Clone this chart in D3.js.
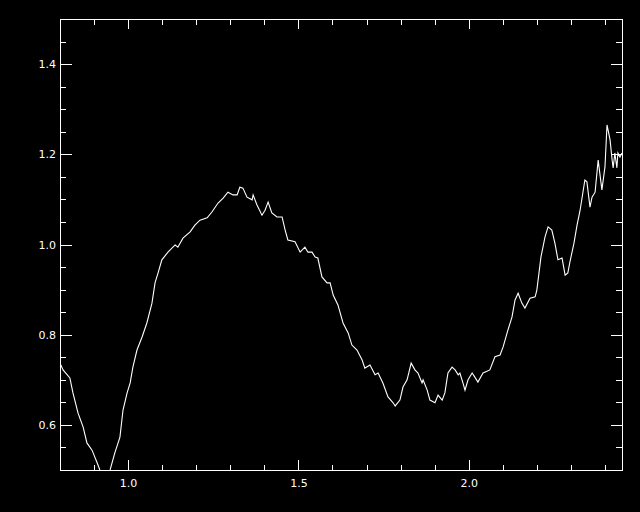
<!DOCTYPE html>
<html lang="en">
<head>
    <meta charset="UTF-8">
    <title>Spectrum - D3.js v7</title>
    <script src="https://d3js.org/d3.v7.min.js"></script>
    <style>
        html, body {
            margin: 0;
            padding: 0;
            background: #000;
        }

        .axis text {
            fill: #fff;
            font-family: "DejaVu Sans", Arial, sans-serif;
            font-size: 11px;
        }

        .axis line {
            stroke: #fff;
            stroke-width: 1;
            shape-rendering: crispEdges;
        }

        .axis .domain {
            display: none;
        }

        .frame {
            fill: none;
            stroke: #fff;
            stroke-width: 1;
            shape-rendering: crispEdges;
        }

        .line {
            fill: none;
            stroke: #fff;
            stroke-width: 1.1;
            clip-path: url(#clip);
        }
    </style>
</head>
<body>
    <div id="chart"></div>

    <script>
        // spectrum: wavelength and flux
        const wavelength = [
            0.800, 0.809, 0.829, 0.838, 0.853, 0.868, 0.879, 0.894, 0.909, 0.917,
            0.929, 0.947, 0.961, 0.976, 0.985, 0.997, 1.006, 1.014, 1.026, 1.041,
            1.055, 1.070, 1.079, 1.088, 1.099, 1.117, 1.138, 1.146, 1.161, 1.182,
            1.196, 1.211, 1.232, 1.246, 1.264, 1.279, 1.293, 1.308, 1.320, 1.328,
            1.337, 1.349, 1.364, 1.367, 1.378, 1.393, 1.402, 1.411, 1.422, 1.437,
            1.452, 1.461, 1.469, 1.490, 1.505, 1.519, 1.528, 1.540, 1.549, 1.557,
            1.569, 1.584, 1.593, 1.602, 1.616, 1.631, 1.646, 1.657, 1.672, 1.687,
            1.695, 1.710, 1.725, 1.734, 1.748, 1.763, 1.778, 1.784, 1.798, 1.807,
            1.819, 1.831, 1.842, 1.851, 1.863, 1.866, 1.878, 1.886, 1.901, 1.910,
            1.922, 1.930, 1.939, 1.951, 1.960, 1.969, 1.974, 1.983, 1.989, 1.998,
            2.010, 2.018, 2.027, 2.042, 2.062, 2.077, 2.092, 2.101, 2.115, 2.127,
            2.136, 2.145, 2.156, 2.165, 2.180, 2.195, 2.200, 2.212, 2.224, 2.233,
            2.244, 2.253, 2.262, 2.274, 2.283, 2.291, 2.297, 2.309, 2.318, 2.327,
            2.341, 2.347, 2.356, 2.362, 2.371, 2.380, 2.391, 2.400, 2.406, 2.415,
            2.421, 2.424, 2.429, 2.435, 2.438, 2.444, 2.450
        ];

        const flux = [
            0.737, 0.722, 0.704, 0.671, 0.626, 0.595, 0.560, 0.544, 0.516, 0.500,
            0.480, 0.500, 0.538, 0.573, 0.633, 0.671, 0.693, 0.728, 0.766, 0.795,
            0.826, 0.870, 0.915, 0.937, 0.966, 0.983, 0.999, 0.994, 1.014, 1.028,
            1.043, 1.054, 1.059, 1.072, 1.092, 1.103, 1.116, 1.110, 1.110, 1.127,
            1.125, 1.105, 1.099, 1.110, 1.088, 1.065, 1.076, 1.094, 1.070, 1.061,
            1.061, 1.032, 1.010, 1.006, 0.983, 0.994, 0.983, 0.983, 0.972, 0.970,
            0.928, 0.915, 0.915, 0.888, 0.866, 0.826, 0.804, 0.777, 0.766, 0.744,
            0.726, 0.733, 0.711, 0.715, 0.693, 0.662, 0.649, 0.642, 0.655, 0.684,
            0.700, 0.737, 0.722, 0.715, 0.693, 0.700, 0.677, 0.655, 0.649, 0.666,
            0.655, 0.671, 0.715, 0.728, 0.722, 0.711, 0.715, 0.693, 0.677, 0.700,
            0.715, 0.706, 0.695, 0.715, 0.722, 0.751, 0.755, 0.773, 0.810, 0.839,
            0.877, 0.892, 0.870, 0.859, 0.881, 0.884, 0.899, 0.972, 1.017, 1.039,
            1.032, 1.003, 0.966, 0.970, 0.932, 0.937, 0.961, 1.003, 1.043, 1.076,
            1.143, 1.139, 1.083, 1.105, 1.116, 1.187, 1.121, 1.172, 1.265, 1.232,
            1.187, 1.170, 1.203, 1.170, 1.203, 1.194, 1.203
        ];

        // tick values
        const xMajor = [1.0, 1.5, 2.0];
        const xMinor = [0.9, 1.1, 1.2, 1.3, 1.4, 1.6, 1.7, 1.8, 1.9, 2.1, 2.2, 2.3, 2.4];
        const yMajor = [0.6, 0.8, 1.0, 1.2, 1.4];
        const yMinor = [0.55, 0.65, 0.7, 0.75, 0.85, 0.9, 0.95, 1.05, 1.1, 1.15, 1.25, 1.3, 1.35, 1.45];

        const totalWidth = 640, totalHeight = 512;
        const margin = { top: 19, right: 18, bottom: 42, left: 60 },
            width = totalWidth - margin.left - margin.right,
            height = totalHeight - margin.top - margin.bottom;

        const data = wavelength.map((w, i) => ({ x: w, y: flux[i] }));

        const svg = d3.select("#chart")
            .append("svg")
            .attr("width", totalWidth)
            .attr("height", totalHeight)
            .style("display", "block")
            .style("background", "#000");

        svg.append("defs").append("clipPath")
            .attr("id", "clip")
            .append("rect")
            .attr("width", width)
            .attr("height", height);

        const chart = svg.append("g")
            .attr("transform", `translate(${margin.left},${margin.top})`);

        const x = d3.scaleLinear().domain([0.8, 2.45]).range([0, width]);
        const y = d3.scaleLinear().domain([0.5, 1.5]).range([height, 0]);

        const fmt = d3.format(".1f");

        // bottom axis with labels, ticks pointing inward
        chart.append("g")
            .attr("class", "axis")
            .attr("transform", `translate(0,${height})`)
            .call(d3.axisBottom(x).tickValues(xMajor).tickFormat(fmt)
                .tickSizeInner(-10).tickSizeOuter(0).tickPadding(9));

        chart.append("g")
            .attr("class", "axis")
            .attr("transform", `translate(0,${height})`)
            .call(d3.axisBottom(x).tickValues(xMinor).tickFormat("")
                .tickSizeInner(-5).tickSizeOuter(0));

        // top axis, ticks only
        chart.append("g")
            .attr("class", "axis")
            .call(d3.axisTop(x).tickValues(xMajor).tickFormat("")
                .tickSizeInner(-10).tickSizeOuter(0));

        chart.append("g")
            .attr("class", "axis")
            .call(d3.axisTop(x).tickValues(xMinor).tickFormat("")
                .tickSizeInner(-6).tickSizeOuter(0));

        // left axis with labels
        chart.append("g")
            .attr("class", "axis")
            .call(d3.axisLeft(y).tickValues(yMajor).tickFormat(fmt)
                .tickSizeInner(-12).tickSizeOuter(0).tickPadding(4));

        chart.append("g")
            .attr("class", "axis")
            .call(d3.axisLeft(y).tickValues(yMinor).tickFormat("")
                .tickSizeInner(-6).tickSizeOuter(0));

        // right axis, ticks only
        chart.append("g")
            .attr("class", "axis")
            .attr("transform", `translate(${width},0)`)
            .call(d3.axisRight(y).tickValues(yMajor).tickFormat("")
                .tickSizeInner(-11).tickSizeOuter(0));

        chart.append("g")
            .attr("class", "axis")
            .attr("transform", `translate(${width},0)`)
            .call(d3.axisRight(y).tickValues(yMinor).tickFormat("")
                .tickSizeInner(-6).tickSizeOuter(0));

        // plot frame
        chart.append("rect")
            .attr("class", "frame")
            .attr("x", 0)
            .attr("y", 0)
            .attr("width", width)
            .attr("height", height);

        // spectrum
        const line = d3.line()
            .x(d => x(d.x))
            .y(d => y(d.y));

        chart.append("path")
            .datum(data)
            .attr("class", "line")
            .attr("d", line);
    </script>
</body>
</html>
